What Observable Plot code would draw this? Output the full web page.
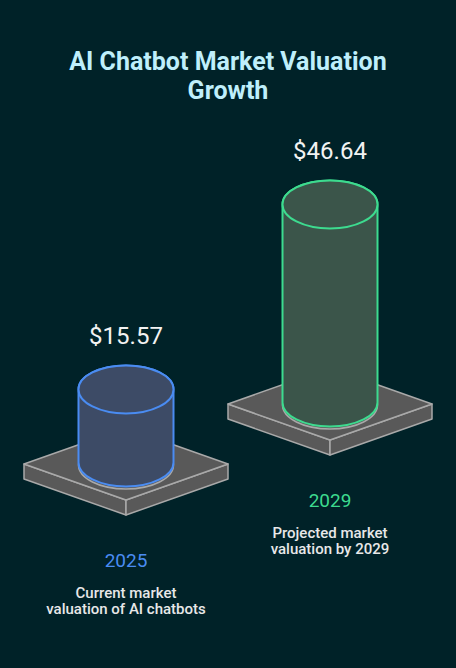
<!DOCTYPE html>
<html><head><meta charset="utf-8">
<script src="https://cdn.jsdelivr.net/npm/d3@7"></script>
<script src="https://cdn.jsdelivr.net/npm/@observablehq/plot@0.6"></script>
<style>
html,body{margin:0;padding:0;background:#002228;}
body{width:456px;height:668px;overflow:hidden;font-family:Roboto,"Noto Sans",sans-serif;}
#title{box-sizing:border-box;padding-top:48px;height:105px;text-align:center;font-weight:700;font-size:25px;line-height:28.5px;color:#bfeffb;}
#chart svg{display:block;}
</style></head><body>
<div id="title">AI Chatbot Market Valuation<br>Growth</div>
<div id="chart"></div>
<script>
// ---- data ----
const years = ["2025", "2029"];
const values = [15.57, 46.64];
const valueLabels = ["$15.57", "$46.64"];
const descLine1 = ["Current market", "Projected market"];
const descLine2 = ["valuation of AI chatbots", "valuation by 2029"];

// ---- styles ----
const strokeColors = ["#4a8cf2", "#3ddb8f"];
const fillColors = ["#3d4b66", "#3b554a"];

const data = years.map((year, i) => ({year, value: values[i], label: valueLabels[i], d1: descLine1[i], d2: descLine2[i], fill: fillColors[i]}));

// layout constants
const base0 = 357.5, rise = 60;       // base of first cylinder, step up per cylinder
const rx = 47.5, ry = 24;             // cylinder ellipse radii
const pw = 102, ph = 36, pt = 15;     // platform half-width, half-height, thickness

function cylinders(index, scales, vals) {
  const g = d3.create("svg:g");
  for (const i of index) {
    const d = data[i];
    const cx = vals.x[i];
    const h = vals.y[i];
    const base = base0 - i * rise;
    const top = base - h;
    const py = base + 1.5;
    const color = vals.stroke[i];
    const pg = g.append("g").attr("fill", "#595959").attr("stroke", "#a9a9a9").attr("stroke-width", 1.5).attr("stroke-linejoin", "round");
    pg.append("path").attr("d", `M${cx-pw},${py}L${cx},${py+ph}L${cx},${py+ph+pt}L${cx-pw},${py+pt}Z`);
    pg.append("path").attr("d", `M${cx},${py+ph}L${cx+pw},${py}L${cx+pw},${py+pt}L${cx},${py+ph+pt}Z`);
    pg.append("path").attr("d", `M${cx-pw},${py}L${cx},${py-ph}L${cx+pw},${py}L${cx},${py+ph}Z`);
    g.append("ellipse").attr("cx", cx).attr("cy", base + 2.5).attr("rx", rx).attr("ry", ry)
      .attr("fill", "none").attr("stroke", "#a9a9a9").attr("stroke-width", 1.5);
    g.append("path")
      .attr("d", `M${cx-rx},${top}L${cx-rx},${base}A${rx},${ry} 0 0 0 ${cx+rx},${base}L${cx+rx},${top}A${rx},${ry} 0 0 0 ${cx-rx},${top}Z`)
      .attr("fill", d.fill).attr("stroke", color).attr("stroke-width", 2);
    g.append("ellipse").attr("cx", cx).attr("cy", top).attr("rx", rx).attr("ry", ry)
      .attr("fill", d.fill).attr("stroke", color).attr("stroke-width", 2);
    const t = g.append("g").attr("text-anchor", "middle").attr("font-family", "Roboto, sans-serif");
    t.append("text").attr("x", cx).attr("y", top - 45.2).attr("font-size", 24).attr("fill", "#f2f2f2").text(d.label);
    t.append("text").attr("x", cx).attr("y", base + 104.2).attr("font-size", 19).attr("fill", color).text(d.year);
    t.append("text").attr("x", cx).attr("y", base + 135).attr("font-size", 15).attr("font-weight", 500).attr("fill", "#e8e8e8").text(d.d1);
    t.append("text").attr("x", cx).attr("y", base + 151.5).attr("font-size", 15).attr("font-weight", 500).attr("fill", "#e8e8e8").text(d.d2);
  }
  return g.node();
}

const chart = Plot.plot({
  width: 456,
  height: 563,
  margin: 0,
  style: {background: "transparent", overflow: "visible"},
  x: {type: "point", domain: years, range: [126, 330], padding: 0, axis: null},
  y: {domain: [0, 50], range: [10.4, 211.6], axis: null},
  color: {domain: years, range: strokeColors},
  marks: [
    Plot.dot(data, {x: "year", y: "value", stroke: "year", render: cylinders})
  ]
});
document.getElementById("chart").appendChild(chart);
</script>
</body></html>
